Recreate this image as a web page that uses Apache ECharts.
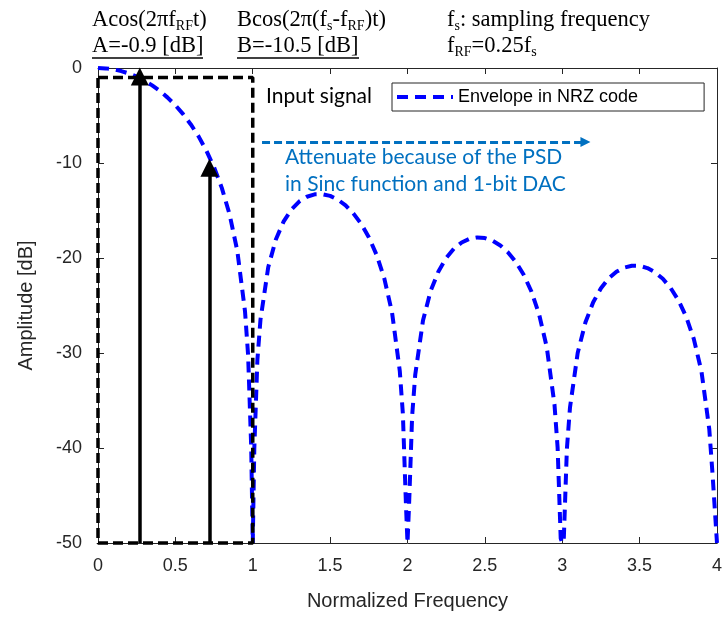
<!DOCTYPE html>
<html>
<head>
<meta charset="utf-8">
<script src="https://cdn.jsdelivr.net/npm/echarts@6/dist/echarts.min.js"></script>
<style>html,body{margin:0;padding:0;background:#fff}#c{width:725px;height:622px}</style>
</head>
<body>
<div id="c"></div>
<script>
// Envelope (NRZ)
const freq = [0,0.05,0.1,0.15,0.2,0.25,0.3,0.35,0.4,0.45,0.5,0.55,0.6,0.65,0.7,0.75,0.8,0.85,0.9,0.95,0.97,0.99,1.0,
  1.01,1.03,1.05,1.1,1.15,1.2,1.25,1.3,1.35,1.4,1.45,1.5,1.55,1.6,1.65,1.7,1.75,1.8,1.85,1.9,1.95,1.97,1.99,2.0,
  2.01,2.03,2.05,2.1,2.15,2.2,2.25,2.3,2.35,2.4,2.45,2.5,2.55,2.6,2.65,2.7,2.75,2.8,2.85,2.9,2.95,2.97,2.99,3.0,
  3.01,3.03,3.05,3.1,3.15,3.2,3.25,3.3,3.35,3.4,3.45,3.5,3.55,3.6,3.65,3.7,3.75,3.8,3.85,3.9,3.95,3.97,4.0];
const envelopeDb = [0,-0.04,-0.14,-0.32,-0.58,-0.91,-1.33,-1.83,-2.42,-3.12,-3.92,-4.86,-5.94,-7.2,-8.69,-10.45,-12.62,-15.39,-19.23,-25.61,-30.21,-39.91,-50,
  -40.09,-30.73,-26.48,-20.97,-18.02,-16.14,-14.89,-14.06,-13.55,-13.3,-13.28,-13.46,-13.86,-14.46,-15.3,-16.39,-17.81,-19.66,-22.15,-25.72,-31.86,-36.36,-45.98,-50,
  -46.07,-36.62,-32.29,-26.59,-23.45,-21.41,-20.0,-19.02,-18.37,-17.98,-17.83,-17.9,-18.18,-18.68,-19.41,-20.41,-21.74,-23.5,-25.9,-29.39,-35.45,-39.93,-49.51,-50,
  -49.57,-40.1,-35.74,-29.97,-26.77,-24.66,-23.19,-22.15,-21.45,-21.01,-20.81,-20.82,-21.06,-21.51,-22.19,-23.15,-24.43,-26.15,-28.51,-31.97,-37.99,-42.45,-50];

// Input tones (arrows)
const toneFreq = [0.27, 0.72];
const toneDb = [-0.9, -10.5];

// Input-signal box
const boxFreq = [0, 1];
const boxDb = [-1, -50];

// Attenuation arrow
const attenFreq = [1.06, 3.15];
const attenDb = -7.8;

// Axes
const xMin = 0, xMax = 4, xStep = 0.5;
const yMin = -50, yMax = 0, yStep = 10;

const seriesName = 'Envelope in NRZ code';

const axisColor = '#262626';
const sans = 'Liberation Sans';
const serif = 'Liberation Serif';

const chart = echarts.init(document.getElementById('c'), null, {renderer: 'canvas'});

const envData = freq.map((f, i) => [f, envelopeDb[i]]);
const boxData = [[boxFreq[0], boxDb[0]], [boxFreq[1], boxDb[0]], [boxFreq[1], boxDb[1]], [boxFreq[0], boxDb[1]], [boxFreq[0], boxDb[0]]];
const arrowData = toneFreq.map((f, i) => ({coords: [[f, yMin], [f, toneDb[i]]]}));

const rich = {
  m: {fontFamily: serif, fontSize: 22.5, lineHeight: 26, color: '#000'},
  s: {fontFamily: serif, fontSize: 14, lineHeight: 12, verticalAlign: 'bottom', color: '#000'}
};

function baseX(pos, labels) {
  return {
    type: 'value', min: xMin, max: xMax, interval: xStep, position: pos,
    axisLine: {show: true, onZero: false, lineStyle: {color: axisColor, width: 1}},
    axisTick: {show: true, inside: true, length: 6, lineStyle: {color: axisColor}},
    axisLabel: {show: labels, fontSize: 18, color: axisColor, fontFamily: sans, margin: 14, showMinLabel: true, showMaxLabel: true},
    splitLine: {show: false}
  };
}
function baseY(pos, labels) {
  return {
    type: 'value', min: yMin, max: yMax, interval: yStep, position: pos,
    axisLine: {show: true, onZero: false, lineStyle: {color: axisColor, width: 1}},
    axisTick: {show: true, inside: true, length: 6, lineStyle: {color: axisColor}},
    axisLabel: {show: labels, fontSize: 18, color: axisColor, fontFamily: sans, margin: 16, showMinLabel: true, showMaxLabel: true},
    splitLine: {show: false}
  };
}

const xa = baseX('bottom', true);
Object.assign(xa, {name: 'Normalized Frequency', nameLocation: 'middle', nameGap: 48,
  nameTextStyle: {fontSize: 20, color: axisColor, fontFamily: sans}});
const ya = baseY('left', true);
Object.assign(ya, {name: 'Amplitude [dB]', nameLocation: 'middle', nameGap: 62, nameRotate: 90,
  nameTextStyle: {fontSize: 20, color: axisColor, fontFamily: sans}});

const option = {
  animation: false,
  backgroundColor: '#fff',
  grid: {left: 98, right: 8, top: 68, bottom: 79},
  xAxis: [xa, baseX('top', false)],
  yAxis: [ya, baseY('right', false)],
  legend: {
    data: [seriesName], left: 392, top: 83, padding: [5, 66, 5, 3],
    borderColor: '#262626', borderWidth: 1, backgroundColor: '#fff',
    itemWidth: 56, itemHeight: 14, itemGap: 5,
    itemStyle: {opacity: 0, borderWidth: 0},
    lineStyle: {width: 4},
    textStyle: {fontSize: 18, fontFamily: sans, color: '#000'}
  },
  series: [
    {
      name: seriesName, type: 'line', data: envData, showSymbol: false, symbol: 'none',
      lineStyle: {color: '#0000ff', width: 4, type: [11, 7]}, itemStyle: {color: '#0000ff'}, z: 2
    },
    {
      name: 'box', type: 'line', data: boxData, showSymbol: false, symbol: 'none', clip: false,
      lineStyle: {color: '#000', width: 3.5, type: [10, 5]}, z: 3
    },
    {
      name: 'tones', type: 'lines', coordinateSystem: 'cartesian2d', data: arrowData, clip: false,
      symbol: ['none', 'triangle'], symbolSize: [17, 18],
      lineStyle: {color: '#000', width: 3.5, opacity: 1}, itemStyle: {color: '#000'}, z: 4
    },
    {
      name: 'atten', type: 'lines', coordinateSystem: 'cartesian2d', clip: false,
      data: [{coords: [[attenFreq[0], attenDb], [attenFreq[1], attenDb]]}],
      symbol: ['none', 'triangle'], symbolSize: [10, 10],
      lineStyle: {color: '#0070c0', width: 3, type: [8, 4], opacity: 1}, itemStyle: {color: '#0070c0'}, z: 4
    }
  ],
  graphic: [
    {type: 'text', left: 92, top: 9, style: {text: '{m|Acos(2πf}{s|RF}{m|t)}\n{m|A=' + toneDb[0] + ' [dB]}', rich: rich}},
    {type: 'text', left: 237, top: 9, style: {text: '{m|Bcos(2π(f}{s|s}{m|-f}{s|RF}{m|)t)}\n{m|B=' + toneDb[1] + ' [dB]}', rich: rich}},
    {type: 'text', left: 447, top: 9, style: {text: '{m|f}{s|s}{m|: sampling frequency}\n{m|f}{s|RF}{m|=0.25f}{s|s}', rich: rich}},
    {type: 'line', shape: {x1: 92, y1: 58, x2: 203, y2: 58}, style: {stroke: '#000', lineWidth: 1.5}},
    {type: 'line', shape: {x1: 237, y1: 58, x2: 359, y2: 58}, style: {stroke: '#000', lineWidth: 1.5}},
    {type: 'text', left: 266, top: 86, style: {text: 'Input signal', font: '21px Lato', fill: '#000'}},
    {type: 'text', left: 285, top: 144, style: {text: 'Attenuate because of the PSD\nin Sinc function and 1-bit DAC', font: '21px Lato', fill: '#0070c0', lineHeight: 27}}
  ]
};
chart.setOption(option);
</script>
</body>
</html>
